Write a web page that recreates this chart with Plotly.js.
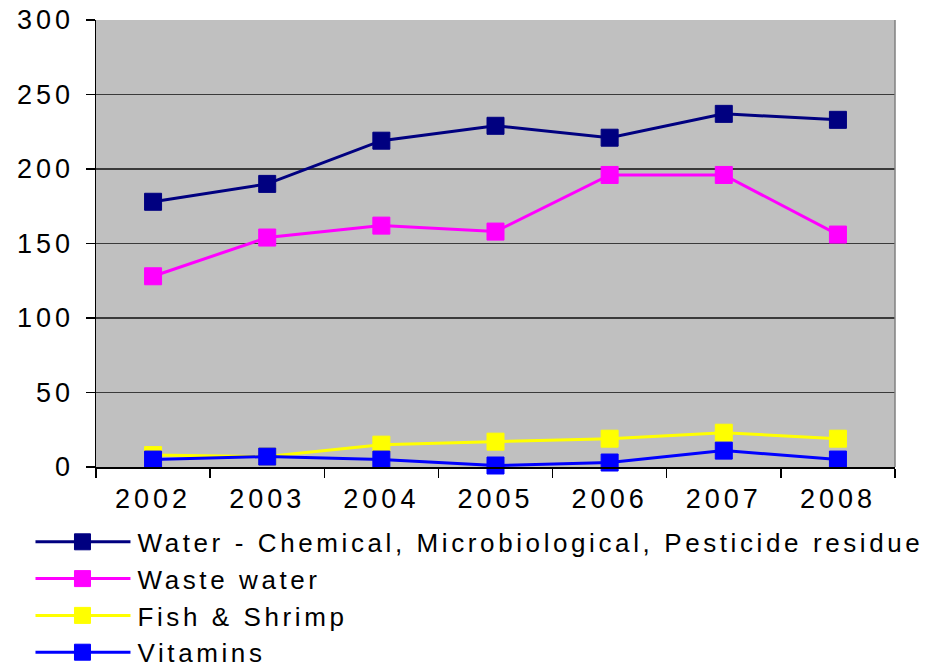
<!DOCTYPE html>
<html>
<head>
<meta charset="utf-8">
<script src="https://cdn.plot.ly/plotly-3.0.1.min.js"></script>
<style>
html,body{margin:0;padding:0;background:#fff;}
#chart{width:928px;height:671px;}
#chart .legendtext{letter-spacing:3.6px;}
#chart .xtick text,#chart .ytick text{letter-spacing:4px;}
</style>
</head>
<body>
<div id="chart"></div>
<script>
const years = ["2002", "2003", "2004", "2005", "2006", "2007", "2008"];
const waterChem = [178, 190, 219, 229, 221, 237, 233];
const wasteWater = [128, 154, 162, 158, 196, 196, 156];
const fishShrimp = [8, 7, 15, 17, 19, 23, 19];
const vitamins = [5, 7, 5, 1, 3, 11, 5];
const seriesNames = ["Water - Chemical, Microbiological, Pesticide residue", "Waste water", "Fish & Shrimp", "Vitamins"];
const seriesColors = ["#000080", "#FF00FF", "#FFFF00", "#0000FF"];
const seriesData = [waterChem, wasteWater, fishShrimp, vitamins];

const traces = seriesData.map((vals, i) => ({
  x: years, y: vals, name: seriesNames[i], type: 'scatter', mode: 'lines+markers',
  legendgroup: 'g' + i,
  line: {color: seriesColors[i], width: 3},
  marker: {symbol: 'square', size: 17, color: seriesColors[i], line: {color: seriesColors[i], width: 1}},
  cliponaxis: false
}));

const layout = {
  width: 928, height: 671,
  margin: {l: 96, r: 33, t: 20, b: 204, autoexpand: false},
  paper_bgcolor: '#ffffff', plot_bgcolor: '#C0C0C0',
  font: {family: 'Liberation Sans, Arial, sans-serif', color: '#000'},
  showlegend: true,
  legend: {x: -0.082, xanchor: 'left', y: -0.115, yanchor: 'top', orientation: 'v',
           font: {size: 26, color: '#000'}, bgcolor: 'rgba(0,0,0,0)', tracegroupgap: 0},
  xaxis: {type: 'category', range: [-0.5, 6.5], showgrid: false, showline: true, linecolor: '#000', linewidth: 1.5,
          ticks: 'outside', tickson: 'boundaries', ticklen: 9, tickcolor: '#000', tickwidth: 1.5,
          ticklabelstandoff: 7, tickfont: {size: 27}, zeroline: false},
  yaxis: {range: [0, 300], dtick: 50, showgrid: true, gridcolor: '#3a3a3a', gridwidth: 1.5,
          showline: true, linecolor: '#000', linewidth: 1.5, ticks: 'outside', ticklen: 9, tickcolor: '#000',
          tickwidth: 1.5, ticklabelstandoff: 6, tickfont: {size: 27}, zeroline: false},
  shapes: [{type: 'line', xref: 'paper', yref: 'paper', x0: 1, x1: 1, y0: 0, y1: 1, line: {color: '#808080', width: 1.5}}]
};

Plotly.newPlot('chart', traces, layout, {displayModeBar: false, staticPlot: true}).then(function (gd) {
  // lengthen the legend sample lines to match the reference, and unclip the legend
  gd.querySelectorAll('.legend [clip-path]').forEach(function (el) { el.removeAttribute('clip-path'); });
  gd.querySelectorAll('.legend .traces').forEach(function (t) {
    t.querySelectorAll('path.js-line').forEach(function (p) { p.setAttribute('d', 'M5,0h95'); });
    t.querySelectorAll('.legendpoints path.scatterpts').forEach(function (p) { p.setAttribute('transform', 'translate(52,0)'); });
    t.querySelectorAll('text.legendtext').forEach(function (tx) { tx.setAttribute('x', '107'); });
  });
});
</script>
</body>
</html>
